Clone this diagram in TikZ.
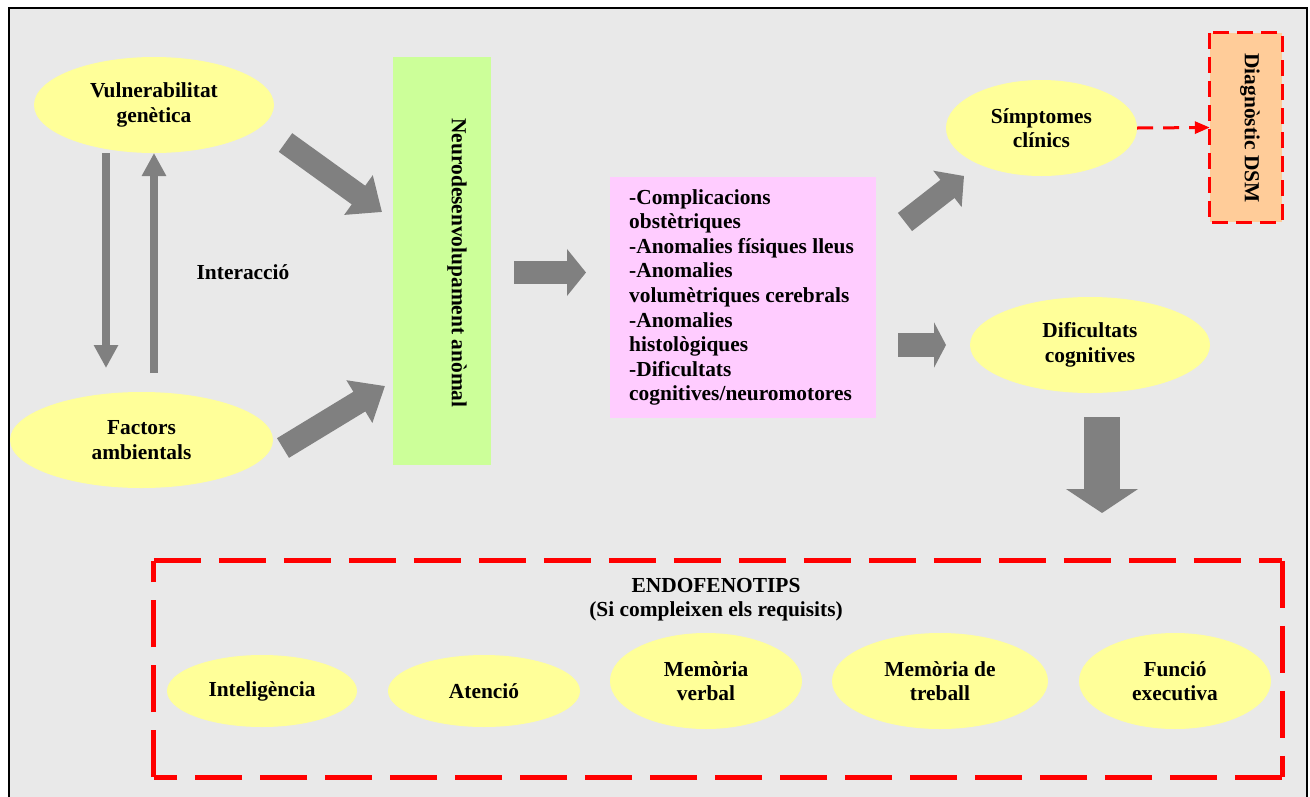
\documentclass[tikz,border=0pt]{standalone}
\usepackage{fontspec}
\setmainfont{Liberation Serif}
\usetikzlibrary{arrows.meta,shapes.geometric}

\definecolor{panel}{HTML}{E9E9E9}
\definecolor{ovalfill}{HTML}{FFFF99}
\definecolor{neurofill}{HTML}{CCFF99}
\definecolor{listfill}{HTML}{FFCCFF}
\definecolor{dsmfill}{HTML}{FFCC99}
\definecolor{arrowgray}{HTML}{808080}
\definecolor{dashred}{HTML}{FF0000}

\tikzset{
  txt/.style={font=\bfseries\fontsize{21.4}{24.6}\selectfont, inner sep=0pt, align=center},
  oval/.style 2 args={ellipse, fill=ovalfill, minimum width=#1, minimum height=#2,
    inner sep=0pt, font=\bfseries\fontsize{21.4}{24.6}\selectfont, align=center},
  plainbox/.style={rectangle, inner sep=0pt},
  thinarrow/.style={draw=arrowgray, line width=8, -{Triangle[width=23,length=23]}},
  blockarrow/.style n args={3}{draw=arrowgray, line width=#1,
    -{Triangle[width=#2,length=#3]}},
  reddash/.style={draw=dashred, line width=3, dash pattern=on 16 off 10},
  endoside/.style={draw=dashred, line width=5, dash pattern=on 47 off 18},
}

\begin{document}
\begin{tikzpicture}[x=1pt,y=-1pt]
  \useasboundingbox (0,0) rectangle (1310,796);
  \clip (0,0) rectangle (1310,796);
  \fill[white] (0,0) rectangle (1310,796);
  \draw[black, line width=2, fill=panel] (8.5,7.5) rectangle (1307,810);

  % genetic and environmental factors
  \node[oval={240}{96}] (vuln) at (154,105) {Vulnerabilitat\\genètica};
  \node[oval={263}{96}] (amb) at (141.5,440) {Factors\\ambientals};
  \node[txt] (inter) at (243,272) {Interacció};

  \coordinate (downtop) at (106,153);
  \coordinate (downbot) at (106,368);
  \coordinate (upbot) at (154,373);
  \coordinate (uptop) at (154,153);
  \draw[thinarrow] (downtop) -- (downbot);
  \draw[thinarrow] (upbot) -- (uptop);

  % abnormal neurodevelopment
  \node[plainbox, fill=neurofill, minimum width=98, minimum height=408] (neuro) at (442,261) {};
  \node[txt, rotate=-90] (neurotxt) at (457,263) {Neurodesenvolupament anòmal};

  \coordinate (a1s) at (285.5,142.5);
  \coordinate (a1e) at (382,212);
  \coordinate (a2s) at (283,448);
  \coordinate (a2e) at (385,386);
  \draw[blockarrow={23}{47}{29}] (a1s) -- (a1e);
  \draw[blockarrow={23}{48}{30}] (a2s) -- (a2e);

  % markers list
  \node[plainbox, fill=listfill, minimum width=266, minimum height=241] (list) at (743,297.5) {};
  \node[txt, align=left, anchor=west] (listtxt) at (629,297.5)
    {-Complicacions\\obstètriques\\-Anomalies físiques lleus\\-Anomalies\\volumètriques cerebrals\\-Anomalies\\histològiques\\-Dificultats\\cognitives/neuromotores};

  \coordinate (a3s) at (514,272.5);
  \coordinate (a3e) at (586,272.5);
  \draw[blockarrow={23}{46}{19}] (a3s) -- (a3e);

  % clinical outcome
  \node[oval={191}{96}] (sympt) at (1041.5,128) {Símptomes\\clínics};
  \node[oval={240}{96}] (cogn) at (1090,345) {Dificultats\\cognitives};
  \node[plainbox, fill=dsmfill, minimum width=72, minimum height=189] (dsm) at (1246,127.5) {};
  \draw[reddash, dash pattern=on 16 off 8] (dsm.north west) rectangle (dsm.south east);
  \node[txt, rotate=-90] (dsmtxt) at (1250,128) {Diagnòstic DSM};
  \draw[reddash, -{Triangle[width=12,length=15]}] (sympt.east) -- (dsm.west);

  \coordinate (a4s) at (905,222);
  \coordinate (a4e) at (964,176);
  \coordinate (a5s) at (898,345);
  \coordinate (a5e) at (946,345);
  \coordinate (a6s) at (1102,417);
  \coordinate (a6e) at (1102,513);
  \draw[blockarrow={23}{45}{21}] (a4s) -- (a4e);
  \draw[blockarrow={24}{45}{12}] (a5s) -- (a5e);
  \draw[blockarrow={36}{71}{24}] (a6s) -- (a6e);

  % endophenotypes
  \node[plainbox, minimum width=1128, minimum height=216] (endo) at (718,669) {};
  \draw[endoside] (endo.north west) -- (endo.north east);
  \draw[endoside] (endo.north east) -- (endo.south east);
  \draw[endoside] (endo.south east) -- (endo.south west);
  \draw[endoside] (endo.south west) -- (endo.north west);
  \node[txt] (endotitle) at (716,599.5) {ENDOFENOTIPS\\(Si compleixen els requisits)};

  \node[oval={190}{72}] (intel) at (262,691) {Inteligència};
  \node[oval={192}{72}] (atenc) at (484,691) {Atenció};
  \node[oval={192}{96}] (memv) at (706,681) {Memòria\\verbal};
  \node[oval={216}{96}] (memt) at (940,681) {Memòria de\\treball};
  \node[oval={192}{96}] (funex) at (1175,681) {Funció\\executiva};
\end{tikzpicture}
\end{document}
